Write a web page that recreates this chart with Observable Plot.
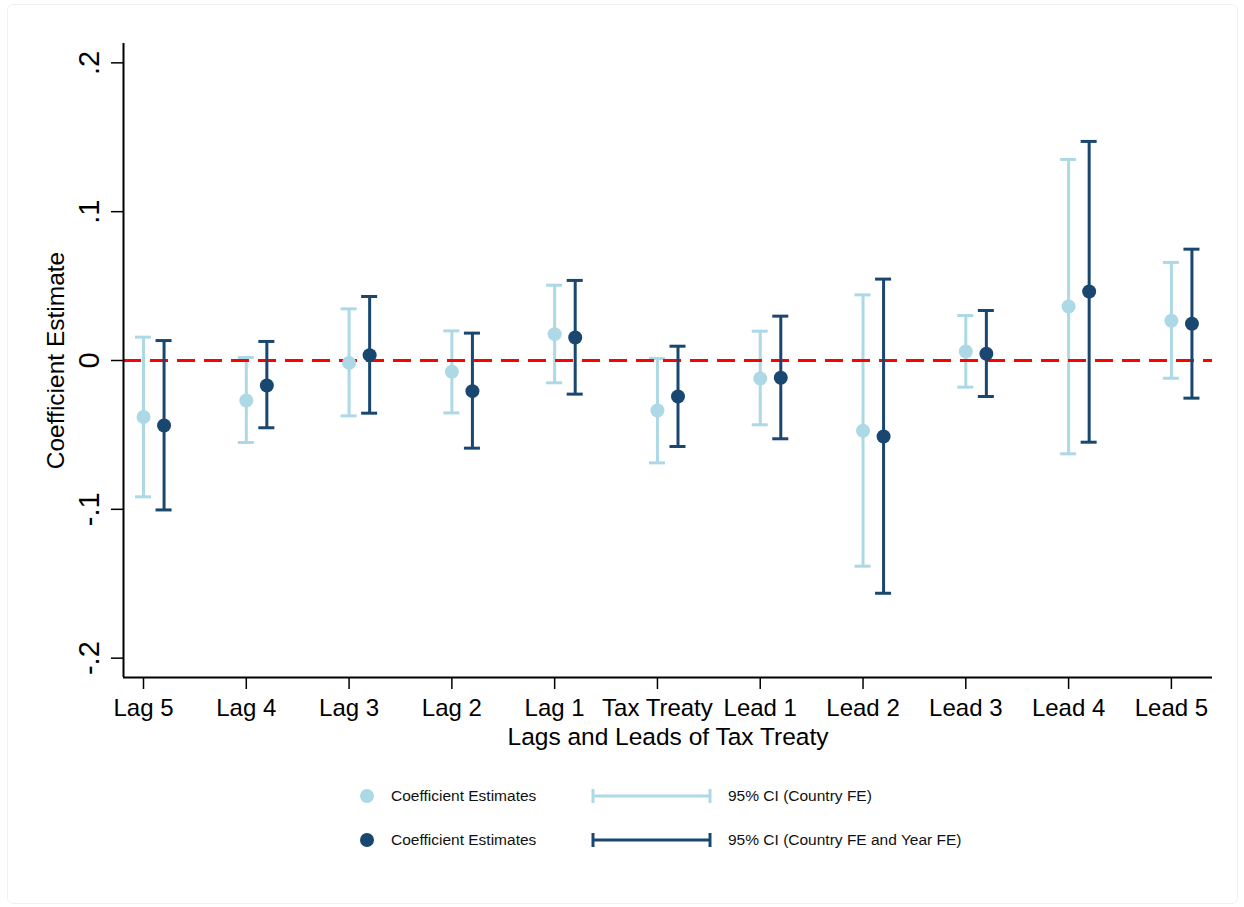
<!DOCTYPE html>
<html>
<head>
<meta charset="utf-8">
<script src="https://cdn.jsdelivr.net/npm/d3@7"></script>
<script src="https://cdn.jsdelivr.net/npm/@observablehq/plot@0.6"></script>
<style>
  html, body { margin: 0; padding: 0; background: #fff; }
  #wrap { position: relative; width: 1244px; height: 907px; font-family: "Liberation Sans", Arial, Helvetica, sans-serif; background: #fff; }
  #frame { position: absolute; left: 7px; top: 4px; width: 1229px; height: 898px; border: 1px solid #f1f1f1; border-radius: 6px; pointer-events: none; }
  #chart { position: absolute; left: 0; top: 0; }
  .leg { position: absolute; font-size: 15.5px; color: #111; line-height: 1; white-space: nowrap; }
</style>
</head>
<body>
<div id="wrap">
  <div id="chart"></div>
  <div id="frame"></div>
</div>
<script>
// ---- Data ----
const labels = ["Lag 5","Lag 4","Lag 3","Lag 2","Lag 1","Tax Treaty","Lead 1","Lead 2","Lead 3","Lead 4","Lead 5"];
// Country FE
const est1 = [-0.0380, -0.0269, -0.0016, -0.0076, 0.0177, -0.0336, -0.0121, -0.0472, 0.0060, 0.0363, 0.0267];
const lo1  = [-0.0916, -0.0551, -0.0372, -0.0352, -0.0150, -0.0688, -0.0432, -0.1382, -0.0179, -0.0627, -0.0119];
const hi1  = [ 0.0157,  0.0020,  0.0347,  0.0199,  0.0506,  0.0013,  0.0197,  0.0441,  0.0302,  0.1351,  0.0659];
// Country FE and Year FE
const est2 = [-0.0437, -0.0168, 0.0036, -0.0206, 0.0155, -0.0242, -0.0116, -0.0511, 0.0045, 0.0464, 0.0247];
const lo2  = [-0.1004, -0.0452, -0.0354, -0.0589, -0.0226, -0.0578, -0.0526, -0.1564, -0.0242, -0.0549, -0.0253];
const hi2  = [ 0.0134,  0.0128,  0.0430,  0.0184,  0.0538,  0.0096,  0.0298,  0.0547,  0.0336,  0.1472,  0.0748];
const yTicks = [-0.2, -0.1, 0, 0.1, 0.2];
const yTickLabels = ["-.2", "-.1", "0", ".1", ".2"];
const xTitle = "Lags and Leads of Tax Treaty";
const yTitle = "Coefficient Estimate";
const legendDot = "Coefficient Estimates";
const legendCI1 = "95% CI (Country FE)";
const legendCI2 = "95% CI (Country FE and Year FE)";

const lightC = "#add8e6";
const darkC = "#1a476f";
const offset2 = 0.2;   // horizontal offset of second series (category units)
const capHalf = 0.078; // half width of CI caps (category units)

const s1 = labels.map((l, i) => ({i, x: i, est: est1[i], lo: lo1[i], hi: hi1[i]}));
const s2 = labels.map((l, i) => ({i, x: i + offset2, est: est2[i], lo: lo2[i], hi: hi2[i]}));
const yT = yTicks.map((v, k) => ({v, t: yTickLabels[k]}));

const xMin = -0.1946, xMax = 10.4;
const yLim = 0.2130;

const font = `"Liberation Sans", Arial, Helvetica, sans-serif`;

const chart = Plot.plot({
  width: 1244,
  height: 760,
  marginLeft: 123,
  marginRight: 32,
  marginTop: 43,
  marginBottom: 83,
  style: {fontFamily: font, fontSize: "24px", background: "transparent", color: "#000", overflow: "visible"},
  x: {type: "linear", domain: [xMin, xMax], axis: null, label: null},
  y: {domain: [-yLim, yLim], axis: null, label: null},
  marks: [
    // CI bars (Country FE)
    Plot.ruleX(s1, {x: "x", y1: "lo", y2: "hi", stroke: lightC, strokeWidth: 3}),
    Plot.ruleY(s1, {y: "lo", x1: d => d.x - capHalf, x2: d => d.x + capHalf, stroke: lightC, strokeWidth: 3}),
    Plot.ruleY(s1, {y: "hi", x1: d => d.x - capHalf, x2: d => d.x + capHalf, stroke: lightC, strokeWidth: 3}),
    // zero reference line
    Plot.ruleY([0], {stroke: "#ff0000", strokeWidth: 3, strokeDasharray: "18,9"}),
    // CI bars (Country FE and Year FE)
    Plot.ruleX(s2, {x: "x", y1: "lo", y2: "hi", stroke: darkC, strokeWidth: 3}),
    Plot.ruleY(s2, {y: "lo", x1: d => d.x - capHalf, x2: d => d.x + capHalf, stroke: darkC, strokeWidth: 3}),
    Plot.ruleY(s2, {y: "hi", x1: d => d.x - capHalf, x2: d => d.x + capHalf, stroke: darkC, strokeWidth: 3}),
    // point estimates
    Plot.dot(s1, {x: "x", y: "est", r: 7, fill: lightC, stroke: "none"}),
    Plot.dot(s2, {x: "x", y: "est", r: 7, fill: darkC, stroke: "none"}),
    // axes lines
    Plot.ruleX([xMin], {stroke: "#000", strokeWidth: 2}),
    Plot.ruleY([-yLim], {stroke: "#000", strokeWidth: 2}),
    // x axis ticks + labels
    Plot.axisX({ticks: d3.range(labels.length), tickFormat: i => labels[i], tickSize: 12, tickPadding: 9, fontSize: 24, strokeWidth: 1.5, anchor: "bottom", label: null}),
    // y axis ticks
    Plot.axisY({ticks: yTicks, tickFormat: () => "", tickSize: 12, strokeWidth: 1.5, anchor: "left", label: null}),
    // y tick labels (rotated)
    Plot.text(yT, {y: "v", text: "t", frameAnchor: "left", dx: -25, rotate: -90, textAnchor: "middle", lineAnchor: "bottom", fontSize: 29, fill: "#000"}),
    // axis titles
    Plot.text([xTitle], {frameAnchor: "bottom", dy: 67, lineAnchor: "bottom", textAnchor: "middle", fontSize: 24.5, fill: "#000"}),
    Plot.text([yTitle], {frameAnchor: "left", dx: -60, rotate: -90, textAnchor: "middle", lineAnchor: "bottom", fontSize: 24.5, fill: "#000"})
  ]
});
document.getElementById("chart").appendChild(chart);

// ---- Legend (below the chart) ----
const wrap = document.getElementById("wrap");
function legendRow(yc, color, ciText) {
  const dot = document.createElementNS("http://www.w3.org/2000/svg", "svg");
  dot.setAttribute("width", 16); dot.setAttribute("height", 16);
  dot.style.position = "absolute"; dot.style.left = (367 - 8) + "px"; dot.style.top = (yc - 8) + "px";
  dot.innerHTML = `<circle cx="8" cy="8" r="7" fill="${color}"/>`;
  wrap.appendChild(dot);
  const t1 = document.createElement("div");
  t1.className = "leg"; t1.textContent = legendDot;
  t1.style.left = "391px"; t1.style.top = (yc - 8) + "px";
  wrap.appendChild(t1);
  const ci = document.createElementNS("http://www.w3.org/2000/svg", "svg");
  ci.setAttribute("width", 124); ci.setAttribute("height", 20);
  ci.style.position = "absolute"; ci.style.left = (593 - 3) + "px"; ci.style.top = (yc - 10) + "px";
  ci.innerHTML = `<line x1="3" y1="10" x2="120" y2="10" stroke="${color}" stroke-width="3"/>
    <line x1="3" y1="3" x2="3" y2="17" stroke="${color}" stroke-width="3"/>
    <line x1="120" y1="3" x2="120" y2="17" stroke="${color}" stroke-width="3"/>`;
  wrap.appendChild(ci);
  const t2 = document.createElement("div");
  t2.className = "leg"; t2.textContent = ciText;
  t2.style.left = "728px"; t2.style.top = (yc - 8) + "px";
  wrap.appendChild(t2);
}
legendRow(796, lightC, legendCI1);
legendRow(840, darkC, legendCI2);
</script>
</body>
</html>
